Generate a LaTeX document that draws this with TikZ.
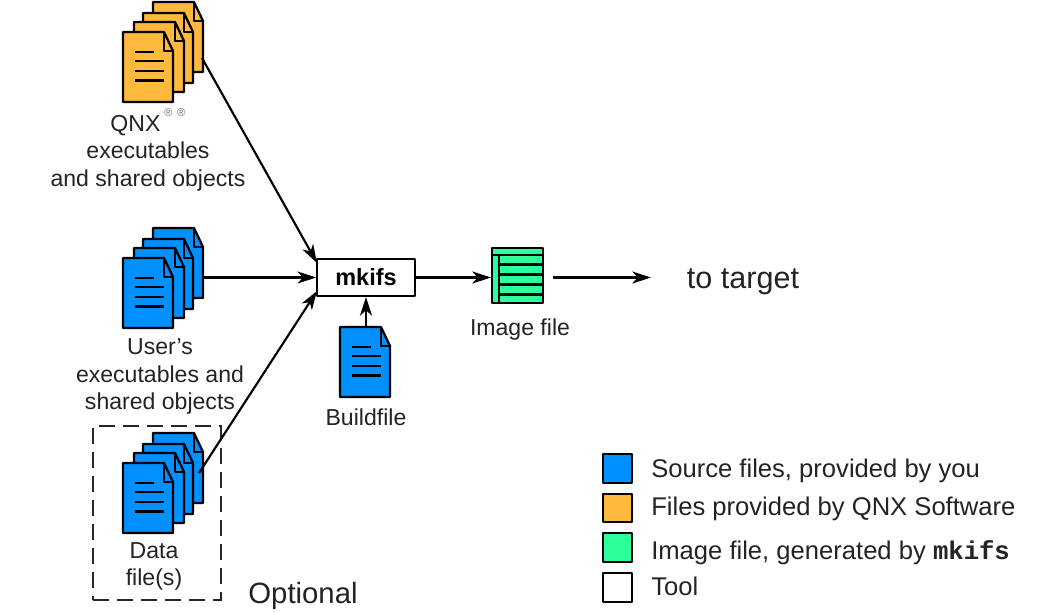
\documentclass[tikz,border=0pt]{standalone}
\usepackage{fontspec}
\setmainfont{Liberation Sans}
\setmonofont{Liberation Mono}
\usetikzlibrary{arrows.meta}

\definecolor{srcblue}{RGB}{0,144,255}
\definecolor{qnxorange}{RGB}{255,185,60}
\definecolor{imggreen}{RGB}{43,255,155}
\definecolor{labelgrey}{RGB}{35,35,35}

\newcommand{\regmark}{\smash{\raisebox{11 pt}{\fontsize{8.5}{9}\selectfont\color{black!55}®}}}

\tikzset{
	outline/.style = {draw = black, line width = 1.7 pt, line join = round},
	connector/.style = {-{Stealth[length = 14pt, width = 9pt, inset = 4pt]}, line width = 1.6 pt},
	label/.style = {text = labelgrey, align = center, font = \fontsize{17.3}{20.6}\selectfont},
	swatch/.style = {outline, minimum width = 21.5 pt, minimum height = 21.5 pt, inner sep = 0 pt},
	legendtext/.style = {text = labelgrey, anchor = base west, inner sep = 0 pt, font = \fontsize{19.2}{23}\selectfont},
	pics/blanksheet/.style = {code = {
		\draw [outline, fill = #1] (0, 0) -- (41, 0) -- (50, 19) -- (50, 70) -- (0, 70) -- cycle;
		\draw [outline] (41, 0) -- (41, 19) -- (50, 19);
	}},
	pics/filesheet/.style = {code = {
		\pic at (0, 0) {blanksheet = #1};
		\draw [line width = 1.6 pt] (12, 20) -- (31, 20);
		\foreach \ruley in {29, 39, 48.5}
			\draw [line width = 1.6 pt] (12, \ruley) -- (41, \ruley);
	}},
	pics/filestack/.style = {code = {
		\foreach \shiftx/\shifty in {30/-30, 20/-19, 11/-10}
			\pic at (\shiftx, \shifty) {blanksheet = #1};
		\pic at (0, 0) {filesheet = #1};
	}}
}

\begin{document}
\begin{tikzpicture}[x = 0.75 pt, y = -0.75 pt]

	\useasboundingbox (0, 0) rectangle (1050, 612);

	% Stacks of files on the left

	\pic at (123, 32) {filestack = qnxorange};
	\pic at (123, 258) {filestack = srcblue};
	\pic at (123, 463) {filestack = srcblue};

	\node (qnxlabel) [label] at (148, 153) {QNX\,\regmark\hspace{3.5 pt}\regmark\\executables\\and shared objects};
	\node (userlabel) [label] at (160, 376.5) {User’s\\executables and\\shared objects};
	\node (datalabel) [label] at (154, 566.5) {Data\\file(s)};

	% Optional frame

	\node (optframe) [draw = black!85, line width = 1.6 pt, dash pattern = on 12 pt off 6 pt, minimum width = 96 pt, minimum height = 130.5 pt, inner sep = 0 pt] at (157, 513) {};
	\node (optlabel) [text = labelgrey, font = \fontsize{22}{26}\selectfont] at (303, 596) {Optional};

	% Tool, buildfile and image

	\node (mkifs) [outline, fill = white, minimum width = 73 pt, minimum height = 27.5 pt, inner sep = 0 pt, font = \fontsize{17.6}{20}\selectfont\bfseries] at (366, 277.5) {mkifs};

	\pic at (340, 327) {filesheet = srcblue};
	\node (buildlabel) [label] at (366, 417) {Buildfile};

	\node (imagefile) [outline, fill = imggreen, minimum width = 38 pt, minimum height = 41 pt, inner sep = 0 pt] at (517.5, 275.5) {};
	\draw [outline] (499, 255) -- (499, 303);
	\draw [outline] (492, 255) -- (543, 255);
	\foreach \stripey in {264.5, 274.5, 284.5, 294.5}
		\draw [outline] (499, \stripey) -- (543, \stripey);
	\node (imagelabel) [label] at (520, 330) {Image file};

	\node (targetlabel) [text = labelgrey, font = \fontsize{22.9}{27}\selectfont] at (743, 282) {to target};

	% Connectors

	\coordinate (qnxout) at (202, 58);
	\coordinate (userout) at (203, 277.5);
	\coordinate (dataout) at (199, 473);
	\coordinate (qnxin) at (317, 263);
	\coordinate (datain) at (317, 291);
	\coordinate (buildout) at (366, 327);
	\coordinate (targetout) at (553, 277.5);
	\coordinate (targetend) at (651, 277.5);

	\begin{scope}[connector]

		\draw (qnxout) -- (qnxin);
		\draw (userout) -- (mkifs.west);
		\draw (dataout) -- (datain);
		\draw (buildout) -- (mkifs.south);
		\draw (mkifs.east) -- (mkifs.east -| imagefile.west);
		\draw (targetout) -- (targetend);

	\end{scope}

	% Legend

	\node (srcswatch) [swatch, fill = srcblue] at (617.5, 468.5) {};
	\node (qnxswatch) [swatch, fill = qnxorange] at (617.5, 508) {};
	\node (imgswatch) [swatch, fill = imggreen] at (617.5, 547.5) {};
	\node (toolswatch) [swatch, fill = white] at (617.5, 587.5) {};

	\node (srctext) [legendtext] at (651, 477) {Source files, provided by you};
	\node (qnxtext) [legendtext] at (651, 515) {Files provided by QNX Software};
	\node (imgtext) [legendtext] at (651, 559) {Image file, generated by {\ttfamily\bfseries mkifs}};
	\node (tooltext) [legendtext] at (651, 595) {Tool};

\end{tikzpicture}
\end{document}
